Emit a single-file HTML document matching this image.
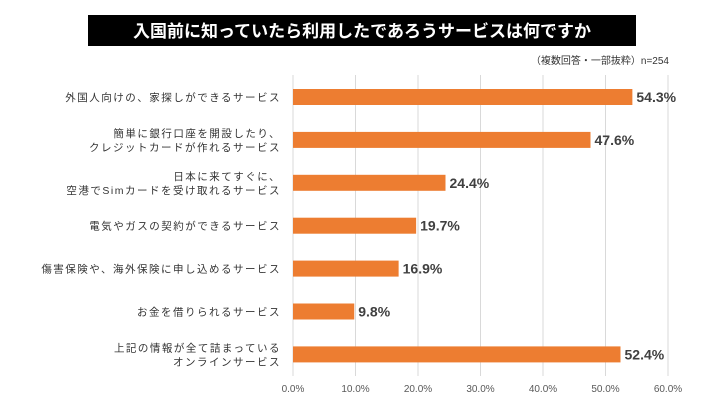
<!DOCTYPE html>
<html><head><meta charset="utf-8"><style>
body{margin:0;background:#fff;width:725px;height:412px;overflow:hidden;font-family:"Liberation Sans","Noto Sans CJK JP",sans-serif}
</style></head><body>
<svg width="725" height="412">
<rect x="88" y="15" width="548" height="31" fill="#000"/>
<text x="362" y="37" text-anchor="middle" fill="#fff" font-size="17" font-weight="bold" font-family="Liberation Sans, Noto Sans CJK JP, sans-serif">入国前に知っていたら利用したであろうサービスは何ですか</text>
<text x="669" y="64" text-anchor="end" fill="#333" font-size="10" font-family="Liberation Sans, Noto Sans CJK JP, sans-serif">（複数回答・一部抜粋）n=254</text>
<g id="grid"></g><g id="bars"></g>
</svg>
<script>
const categories=[["外国人向けの、家探しができるサービス"],["簡単に銀行口座を開設したり、","クレジットカードが作れるサービス"],["日本に来てすぐに、","空港でSimカードを受け取れるサービス"],["電気やガスの契約ができるサービス"],["傷害保険や、海外保険に申し込めるサービス"],["お金を借りられるサービス"],["上記の情報が全て詰まっている","オンラインサービス"]];
const values=[54.3,47.6,24.4,19.7,16.9,9.8,52.4];
const ticks=[0,10,20,30,40,50,60];
const NS="http://www.w3.org/2000/svg";
const x=v=>293+v*375/60;
const y=i=>97+i*42.9;
function mk(t,a,p){const e=document.createElementNS(NS,t);for(const k in a)e.setAttribute(k,a[k]);p.appendChild(e);return e;}
const g=document.getElementById('grid'),b=document.getElementById('bars');
ticks.forEach(t=>{
const l=mk('line',{x1:x(t),x2:x(t),y1:75,y2:376,stroke:'#d9d9d9','stroke-width':1},g);


const tx=mk('text',{x:x(t),y:392,'text-anchor':'middle','font-size':10,fill:'#595959'},g);
tx.textContent=t.toFixed(1)+'%';


});
values.forEach((v,i)=>{
const r=mk('rect',{x:x(0),y:y(i)-8,width:x(v)-x(0),height:16,fill:'#ed7d31'},b);


const lb=mk('text',{x:x(v)+4,y:y(i)+5,'font-size':14,'font-weight':'bold',fill:'#404040'},b);
lb.textContent=v.toFixed(1)+'%';


const lines=categories[i];
lines.forEach((s,j)=>{
const c=mk('text',{x:281,y:y(i)+4+(j-(lines.length-1)/2)*14,'text-anchor':'end','font-size':10.5,'letter-spacing':1.5,fill:'#333'},b);
c.textContent=s;


});
});
</script>
</body></html>
